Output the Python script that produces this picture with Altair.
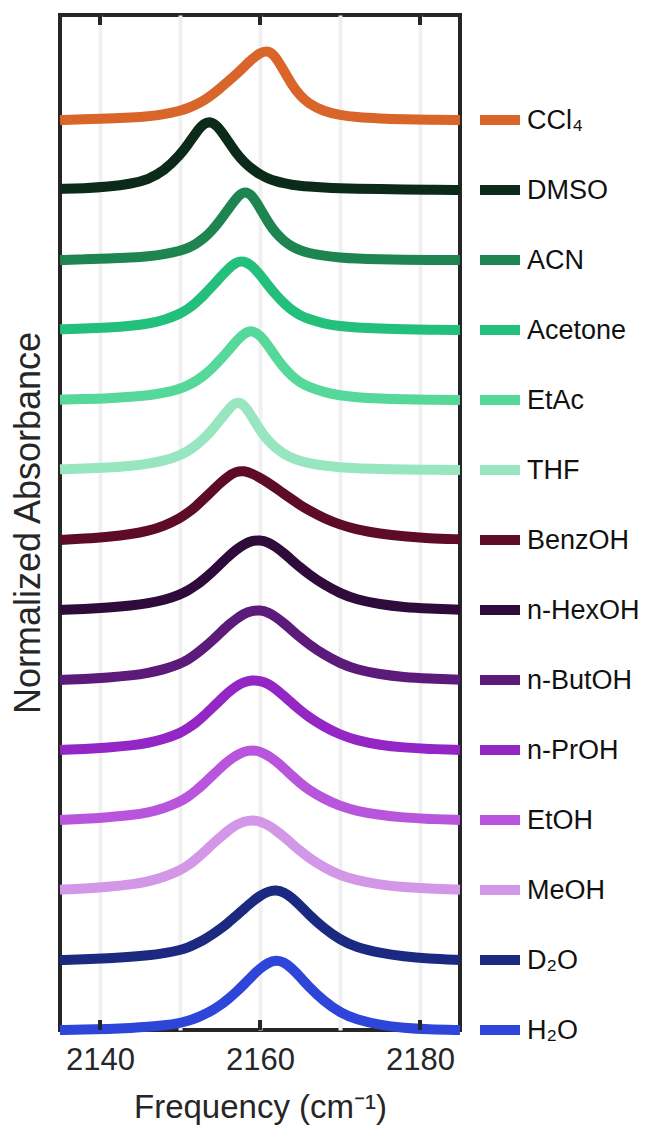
import altair as alt
import pandas as pd

# shared frequency grid (cm^-1)
freq = [2135, 2138, 2141, 2144, 2146, 2148, 2150, 2151, 2152, 2153, 2154, 2155, 2156,
        2157, 2158, 2159, 2160, 2161, 2162, 2163, 2164, 2165, 2166, 2168, 2170, 2172,
        2175, 2178, 2181, 2185]

solvents = ["CCl₄", "DMSO", "ACN", "Acetone", "EtAc", "THF", "BenzOH",
            "n-HexOH", "n-ButOH", "n-PrOH", "EtOH", "MeOH", "D₂O", "H₂O"]
colors = ["#D9652B", "#0B2A1A", "#1E8450", "#22C07A", "#55D89A", "#98E6C0", "#5E0B26",
          "#2E0B3A", "#5C1A7A", "#9326C4", "#B955DC", "#D397E8", "#1B2A80", "#2D45D8"]

ccl4 = [0.0, 0.01, 0.02, 0.035, 0.05, 0.08, 0.13, 0.17, 0.22, 0.28, 0.36, 0.45, 0.55, 0.65, 0.76,
        0.87, 0.96, 1.0, 0.9, 0.7, 0.5, 0.35, 0.24, 0.12, 0.07, 0.04, 0.02, 0.01, 0.005, 0.0]
dmso = [0.015, 0.025, 0.045, 0.09, 0.15, 0.27, 0.5, 0.65, 0.82, 0.96, 0.98, 0.87, 0.7, 0.53, 0.4,
        0.3, 0.22, 0.165, 0.125, 0.095, 0.075, 0.06, 0.05, 0.035, 0.025, 0.02, 0.012, 0.008, 0.004, 0.0]
acn = [0.0, 0.01, 0.02, 0.035, 0.05, 0.08, 0.13, 0.17, 0.23, 0.31, 0.42, 0.56, 0.72, 0.88, 0.99,
       0.93, 0.74, 0.54, 0.38, 0.27, 0.19, 0.14, 0.1, 0.06, 0.035, 0.02, 0.01, 0.005, 0.0, 0.0]
acetone = [0.01, 0.02, 0.035, 0.06, 0.09, 0.14, 0.23, 0.3, 0.39, 0.5, 0.62, 0.75, 0.87, 0.97, 0.99,
           0.92, 0.79, 0.64, 0.5, 0.38, 0.28, 0.21, 0.16, 0.09, 0.055, 0.035, 0.02, 0.01, 0.005, 0.0]
etac = [0.005, 0.015, 0.025, 0.045, 0.065, 0.1, 0.16, 0.21, 0.27, 0.35, 0.45, 0.57, 0.7, 0.84, 0.95,
        1.0, 0.93, 0.78, 0.61, 0.46, 0.34, 0.25, 0.19, 0.11, 0.065, 0.04, 0.02, 0.01, 0.005, 0.0]
thf = [0.01, 0.02, 0.035, 0.06, 0.09, 0.13, 0.21, 0.27, 0.35, 0.45, 0.57, 0.71, 0.86, 0.98, 0.94,
       0.76, 0.57, 0.42, 0.31, 0.23, 0.17, 0.13, 0.1, 0.06, 0.04, 0.025, 0.015, 0.008, 0.004, 0.0]
benzoh = [0.0, 0.02, 0.045, 0.085, 0.13, 0.2, 0.31, 0.39, 0.48, 0.59, 0.7, 0.81, 0.91, 0.98, 0.99,
          0.95, 0.89, 0.82, 0.74, 0.66, 0.58, 0.5, 0.43, 0.31, 0.22, 0.15, 0.09, 0.05, 0.025, 0.01]
hexoh = [0.0, 0.015, 0.035, 0.065, 0.095, 0.14, 0.22, 0.28, 0.35, 0.44, 0.54, 0.65, 0.76, 0.86, 0.94,
         0.99, 1.0, 0.97, 0.9, 0.81, 0.71, 0.61, 0.52, 0.36, 0.24, 0.15, 0.08, 0.04, 0.02, 0.005]
butoh = [0.0, 0.015, 0.035, 0.065, 0.1, 0.15, 0.23, 0.29, 0.37, 0.46, 0.56, 0.67, 0.78, 0.87, 0.95,
         0.99, 1.0, 0.97, 0.9, 0.81, 0.71, 0.61, 0.52, 0.36, 0.24, 0.15, 0.08, 0.04, 0.02, 0.005]
proh = [0.0, 0.015, 0.035, 0.065, 0.1, 0.155, 0.24, 0.31, 0.39, 0.49, 0.6, 0.71, 0.82, 0.91, 0.97,
        1.0, 0.99, 0.95, 0.87, 0.77, 0.67, 0.57, 0.48, 0.33, 0.22, 0.14, 0.07, 0.035, 0.015, 0.0]
etoh = [0.0, 0.015, 0.04, 0.07, 0.105, 0.165, 0.26, 0.33, 0.42, 0.52, 0.63, 0.74, 0.84, 0.92, 0.98,
        1.0, 0.98, 0.92, 0.84, 0.74, 0.63, 0.53, 0.44, 0.3, 0.2, 0.13, 0.07, 0.035, 0.015, 0.0]
meoh = [0.005, 0.02, 0.045, 0.08, 0.12, 0.185, 0.28, 0.35, 0.44, 0.54, 0.65, 0.75, 0.85, 0.93, 0.98,
        1.0, 0.98, 0.93, 0.85, 0.76, 0.66, 0.56, 0.47, 0.32, 0.21, 0.14, 0.075, 0.04, 0.02, 0.005]
d2o = [0.0, 0.01, 0.025, 0.045, 0.065, 0.095, 0.14, 0.18, 0.23, 0.29, 0.36, 0.44, 0.53, 0.63, 0.73,
       0.83, 0.92, 0.98, 1.0, 0.97, 0.89, 0.78, 0.66, 0.45, 0.29, 0.18, 0.1, 0.05, 0.02, 0.0]
h2o = [0.0, 0.005, 0.015, 0.03, 0.045, 0.065, 0.1, 0.13, 0.17, 0.22, 0.28, 0.35, 0.44, 0.54, 0.65,
       0.77, 0.88, 0.96, 1.0, 0.97, 0.88, 0.76, 0.63, 0.41, 0.25, 0.15, 0.07, 0.03, 0.01, 0.0]

series = [ccl4, dmso, acn, acetone, etac, thf, benzoh, hexoh, butoh, proh, etoh, meoh, d2o, h2o]

tick_values = [2140, 2160, 2180]
grid_values = [2140, 2150, 2160, 2170, 2180]

rows = []
n = len(solvents)
for i, (name, vals) in enumerate(zip(solvents, series)):
    off = n - 1 - i
    for f, v in zip(freq, vals):
        rows.append({"solvent": name, "order": i, "freq": f, "y": off + v})
df = pd.DataFrame(rows)
leg = pd.DataFrame({"solvent": solvents, "offset": [n - 1 - i for i in range(n)]})
ticks = pd.DataFrame({"t": tick_values})

W, H = 400, 1015
FONT = "Liberation Sans"
color_scale = alt.Scale(domain=solvents, range=colors)
yscale = alt.Scale(domain=[0, 14.5], nice=False, zero=False)
xscale = alt.Scale(domain=[2135, 2185], nice=False, zero=False)

lines = alt.Chart(df).mark_line(strokeWidth=10, interpolate="basis").encode(
    x=alt.X("freq:Q", scale=xscale,
            axis=alt.Axis(values=grid_values, format="d",
                          labelExpr="datum.value % 20 == 0 ? datum.label : ''",
                          grid=True, gridColor="#f0f0f0", gridWidth=4,
                          ticks=False, domain=False, labelFontSize=31,
                          labelColor="#262626", labelPadding=15, labelFont=FONT,
                          title="Frequency (cm⁻¹)", titleFontSize=33,
                          titleFontWeight="normal", titleColor="#262626",
                          titlePadding=16, titleFont=FONT)),
    y=alt.Y("y:Q", scale=yscale,
            axis=alt.Axis(labels=False, ticks=False, domain=False, grid=False,
                          title="Normalized Absorbance", titleFontSize=36,
                          titleFontWeight="normal", titleColor="#262626",
                          titlePadding=13, titleFont=FONT)),
    color=alt.Color("solvent:N", scale=color_scale, legend=None),
    detail="solvent:N",
    order="order:Q",
)

top_ticks = alt.Chart(ticks).mark_rule(strokeWidth=4, color="#262626").encode(
    x=alt.X("t:Q", scale=xscale), y=alt.value(0), y2=alt.value(10))
bot_ticks = alt.Chart(ticks).mark_rule(strokeWidth=4, color="#262626").encode(
    x=alt.X("t:Q", scale=xscale), y=alt.value(H), y2=alt.value(H - 10))

leg_lines = alt.Chart(leg).mark_rule(strokeWidth=10).encode(
    x=alt.value(W + 20), x2=alt.value(W + 60),
    y=alt.Y("offset:Q", scale=yscale),
    color=alt.Color("solvent:N", scale=color_scale, legend=None),
)
leg_text = alt.Chart(leg).mark_text(align="left", baseline="middle", fontSize=27,
                                    font=FONT, color="#111111", dy=1).encode(
    x=alt.value(W + 67),
    y=alt.Y("offset:Q", scale=yscale),
    text="solvent:N",
)

chart = alt.layer(lines, top_ticks, bot_ticks, leg_lines, leg_text).properties(
    width=W, height=H, autosize="none",
    padding={"left": 60, "top": 15, "right": 187, "bottom": 102},
).configure(
    font=FONT,
    view=alt.ViewConfig(stroke="#262626", strokeWidth=4),
)

chart.save("out.html", embed_options={"renderer": "svg", "actions": False})
